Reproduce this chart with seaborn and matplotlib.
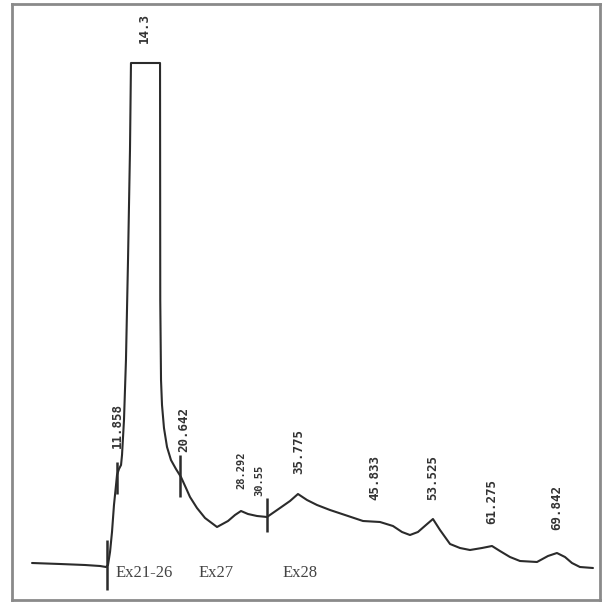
import matplotlib
matplotlib.use("Agg")
import matplotlib.pyplot as plt
import seaborn as sns
import pandas as pd
from matplotlib.transforms import offset_copy

# ---- data ----
time_min = [0.66, 4.35, 7.64, 9.62, 10.41, 10.67, 10.94, 11.20, 11.46, 11.73, 11.86,
            12.12, 12.39, 12.52, 12.78, 13.04, 13.31, 13.57, 13.70,
            17.53, 17.56, 17.66, 17.79, 18.05, 18.45, 18.97, 19.63, 20.29, 20.95,
            21.48, 22.40, 23.46, 25.04, 26.49, 27.41, 28.20, 29.12, 30.31, 31.63,
            33.34, 34.66, 35.71, 36.90, 38.22, 39.93, 41.91, 44.28, 46.52, 48.23,
            49.42, 50.47, 51.52, 52.58, 53.50, 54.43, 55.75, 57.06, 58.38, 59.96,
            61.28, 62.33, 63.65, 64.97, 67.21, 68.66, 69.84, 70.90, 71.82, 72.87, 74.59]
signal = [12, 11, 10, 9, 8, 10, 23, 43, 70, 90, 100,
          106, 110, 120, 155, 215, 315, 425, 512,
          512, 275, 195, 170, 147, 128, 115, 106, 98, 87,
          78, 67, 57, 48, 54, 60, 64, 61, 59, 58,
          67, 74, 81, 75, 70, 65, 60, 54, 53, 49,
          43, 40, 43, 50, 56, 45, 31, 27, 25, 27,
          29, 24, 18, 14, 13, 19, 22, 18, 12, 8, 7]

peak_labels = ["14.3", "11.858", "20.642", "28.292", "30.55", "35.775",
               "45.833", "53.525", "61.275", "69.842"]
peak_label_level = [547, 150, 145, 105, 95, 123, 97, 98, 73, 67]

marker_times = [10.54, 11.86, 20.16, 31.63]
marker_low = [-15, 81, 78, 43]
marker_high = [35, 113, 120, 77]

exon_labels = ["Ex21-26", "Ex27", "Ex28"]
exon_times = [15.42, 24.90, 35.97]
exon_level = [2, 2, 2]

# ---- figure ----
sns.set_style("white")
fig = plt.figure(figsize=(6.02, 6.03), dpi=100)
ax = fig.add_axes([11.5 / 602, (603 - 599.5) / 603, 588 / 602, 596 / 603])

df = pd.DataFrame({"time": time_min, "signal": signal})
sns.lineplot(data=df, x="time", y="signal", sort=False, estimator=None,
             color="#2b2b2b", linewidth=1.5, ax=ax)

ax.vlines(marker_times, marker_low, marker_high, color="#2b2b2b", linewidth=1.8)

ax.set_xlim(-2.046, 75.45)
ax.set_ylim(-24.5, 571.5)
ax.set_xticks([])
ax.set_yticks([])
ax.set_xlabel("")
ax.set_ylabel("")
for sp in ax.spines.values():
    sp.set_visible(True)
    sp.set_color("#8a8a8a")
    sp.set_linewidth(2.0)

small = {"28.292", "30.55"}
for lab, lev in zip(peak_labels, peak_label_level):
    x = float(lab)
    tr = ax.transData
    if lab == "14.3":
        tr = offset_copy(ax.transData, fig=fig, x=8.5, y=0, units="dots")
    ax.text(x, lev, lab, rotation=90, ha="center", va="center",
            fontsize=7.5 if lab in small else 9, family="DejaVu Sans Mono",
            fontweight="bold", color="#333333", transform=tr)

for lab, t, lev in zip(exon_labels, exon_times, exon_level):
    ax.text(t, lev, lab, ha="center", va="center", fontsize=12,
            family="Liberation Serif", color="#444444")

fig.savefig("out.png", dpi=100)
